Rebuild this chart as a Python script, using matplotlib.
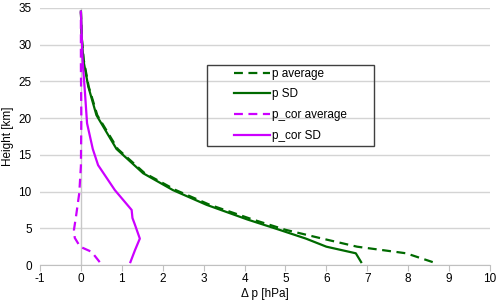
import numpy as np
import matplotlib
matplotlib.use("Agg")
import matplotlib.pyplot as plt
from matplotlib.patches import Rectangle

plt.rcParams['font.family'] = ['Liberation Sans', 'DejaVu Sans']
plt.rcParams['axes.unicode_minus'] = False

# heights [km] and pressure differences [hPa]
h_p = [0.4, 1.6, 2.5, 3.6, 4.8, 6.2, 8.2, 10.2, 12.5, 15.8, 20.4, 24.3, 27.9, 31.0, 34.5]
p_avg = [8.6, 7.95, 6.75, 5.9, 5.0, 4.2, 3.15, 2.32, 1.56, 0.9, 0.4, 0.19, 0.07, 0.02, 0.0]
p_sd = [6.85, 6.72, 6.0, 5.5, 4.85, 4.07, 3.07, 2.25, 1.52, 0.87, 0.38, 0.18, 0.06, 0.02, 0.0]

h_cor_avg = [0.4, 1.8, 2.5, 3.7, 4.8, 6.6, 9.8, 13.5, 20.0, 27.0, 34.5]
cor_avg = [0.46, 0.26, -0.02, -0.15, -0.17, -0.12, -0.04, 0.0, 0.01, 0.0, 0.0]

h_cor_sd = [0.4, 2.0, 3.6, 5.5, 6.4, 7.5, 10.2, 13.6, 15.8, 19.3, 23.4, 27.9, 34.5]
cor_sd = [1.21, 1.32, 1.44, 1.32, 1.26, 1.24, 0.83, 0.42, 0.29, 0.15, 0.1, 0.04, 0.0]

green = "#006a00"
magenta = "#cc00ff"
fs = 8.5

fig = plt.figure(figsize=(5, 3.05), dpi=100)
ax = fig.add_axes([0.08, 0.131, 0.9, 0.843])

ax.axvline(0, color="#c8c8c8", lw=1, zorder=1)
ax.plot(p_avg, h_p, color=green, lw=1.6, ls=(0, (4, 2.5)), label="p average", zorder=3)
ax.plot(p_sd, h_p, color=green, lw=1.6, label="p SD", zorder=3)
ax.plot(cor_avg, h_cor_avg, color=magenta, lw=1.6, ls=(0, (4, 2.5)), label="p_cor average", zorder=3)
ax.plot(cor_sd, h_cor_sd, color=magenta, lw=1.6, label="p_cor SD", zorder=3)

ax.set_xlim(-1, 10)
ax.set_ylim(0, 35)
ax.set_xticks(np.arange(-1, 11, 1))
ax.set_yticks(np.arange(0, 40, 5))
ax.grid(axis="y", color="#d4d4d4", lw=1)
ax.set_axisbelow(True)
for s in ["top", "right", "left"]:
    ax.spines[s].set_visible(False)
ax.spines["bottom"].set_color("#c0c0c0")
ax.tick_params(axis="x", length=4, color="#c0c0c0", labelsize=fs, pad=2)
ax.tick_params(axis="y", length=0, labelsize=fs, pad=6)
ax.set_xlabel("Δ p [hPa]", fontsize=fs, labelpad=2)
ax.set_ylabel("Height [km]", fontsize=fs, labelpad=3)

fig.patches.append(Rectangle((0.414, 0.5213), 0.334, 0.2656, transform=fig.transFigure,
                             fill=False, edgecolor="#404040", lw=1))
ax.legend(loc="center", bbox_to_anchor=(0.581, 0.656), bbox_transform=fig.transFigure,
          frameon=False, fontsize=fs, handlelength=3, handletextpad=0.2, labelspacing=0.75)

fig.savefig("out.png", dpi=100)
